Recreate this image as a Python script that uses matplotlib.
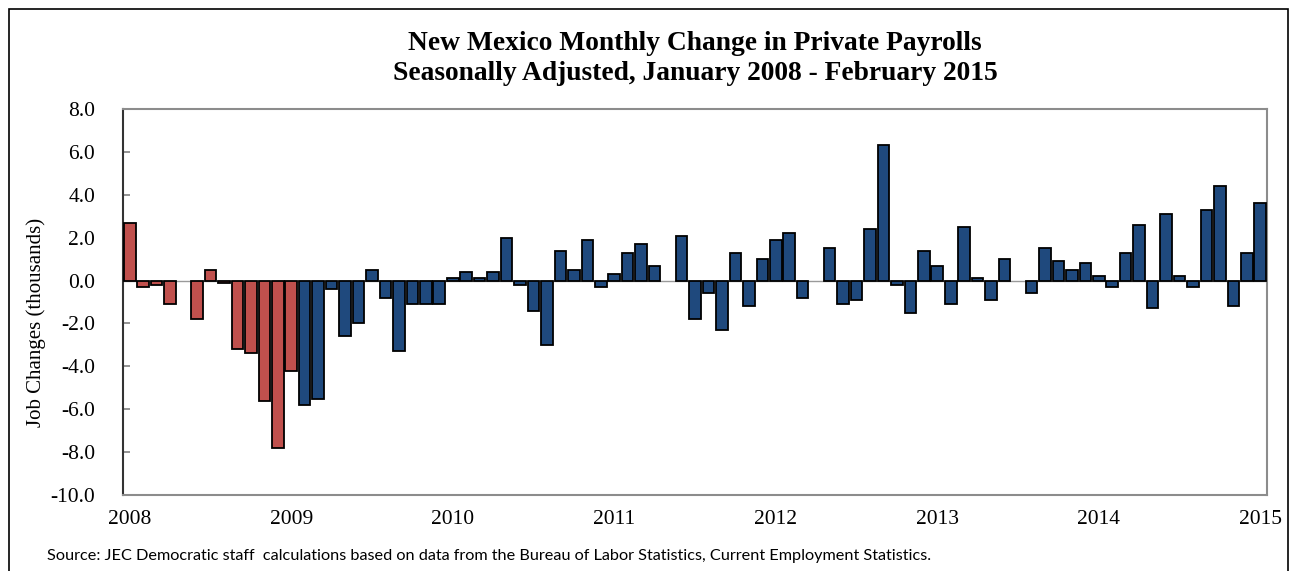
import matplotlib
matplotlib.use("Agg")
import matplotlib.pyplot as plt
from matplotlib.patches import Rectangle

# Monthly change in private payrolls (thousands), Jan 2008 onward
values = [
    2.7, -0.3, -0.2, -1.1, 0.0, -1.8, 0.5, -0.1, -3.2, -3.4, -5.6, -7.8,   # 2008
    -4.2, -5.8, -5.5, -0.4, -2.6, -2.0, 0.5, -0.8, -3.3, -1.1, -1.1, -1.1,  # 2009
    0.1, 0.4, 0.1, 0.4, 2.0, -0.2, -1.4, -3.0, 1.4, 0.5, 1.9, -0.3,        # 2010
    0.3, 1.3, 1.7, 0.7, 0.0, 2.1, -1.8, -0.6, -2.3, 1.3, -1.2, 1.0,        # 2011
    1.9, 2.2, -0.8, 0.0, 1.5, -1.1, -0.9, 2.4, 6.3, -0.2, -1.5, 1.4,       # 2012
    0.7, -1.1, 2.5, 0.1, -0.9, 1.0, 0.0, -0.6, 1.5, 0.9, 0.5, 0.8,         # 2013
    0.2, -0.3, 1.3, 2.6, -1.3, 3.1, 0.2, -0.3, 3.3, 4.4, -1.2, 1.3,        # 2014
    3.6,                                                                   # 2015
]
n_red = 13  # Jan 2008 - Jan 2009
year_labels = ["2008", "2009", "2010", "2011", "2012", "2013", "2014", "2015"]
y_ticks = [8.0, 6.0, 4.0, 2.0, 0.0, -2.0, -4.0, -6.0, -8.0, -10.0]

RED = "#C0504D"
BLUE = "#1F497D"

fig = plt.figure(figsize=(12.97, 5.71), dpi=100)
W, H = 1297, 571
ax = fig.add_axes([123 / W, 1 - 495 / H, (1267 - 123) / W, (495 - 109) / H])

x = list(range(len(values)))
colors = [RED if i < n_red else BLUE for i in x]
lws = [0.0 if v == 0 else 1.3 for v in values]
ax.bar(x, values, width=0.86, color=colors, edgecolor="black", linewidth=lws, zorder=3)
ax.axhline(0, color="#9a9a9a", linewidth=1.0, zorder=2)

ax.set_xlim(-0.5, len(values) - 0.5)
ax.set_ylim(-10, 8)
ax.set_yticks(y_ticks)
ax.set_yticklabels([f"{v:.1f}" for v in y_ticks])
ax.set_xticks([12 * i for i in range(len(year_labels))])
ax.set_xticklabels(year_labels)

serif = "Liberation Serif"
for lab in ax.get_yticklabels() + ax.get_xticklabels():
    lab.set_fontfamily(serif)
    lab.set_fontsize(15.5)
    lab.set_color("black")
ax.tick_params(axis="y", direction="in", length=5, color="#808080", width=1.2, pad=20)
ax.tick_params(axis="x", length=0, pad=11)

for side in ["top", "right", "bottom"]:
    ax.spines[side].set_color("#8c8c8c")
    ax.spines[side].set_linewidth(1.5)
ax.spines["left"].set_color("#333333")
ax.spines["left"].set_linewidth(1.5)

fig.text(36 / W, 1 - 322 / H, "Job Changes (thousands)", rotation=90, ha="center", va="center",
         fontfamily=serif, fontsize=15)

fig.text(695 / W, 1 - 44 / H, "New Mexico Monthly Change in Private Payrolls",
         ha="center", va="center", fontfamily=serif, fontweight="bold", fontsize=19.8)
fig.text(695 / W, 1 - 73 / H, "Seasonally Adjusted, January 2008 - February 2015",
         ha="center", va="center", fontfamily=serif, fontweight="bold", fontsize=19.8)

fig.text(47 / W, 1 - 556 / H,
         "Source: JEC Democratic staff  calculations based on data from the Bureau of Labor Statistics, Current Employment Statistics.",
         ha="left", va="center", fontfamily="Lato", fontsize=11.7)

# outer chart border
fig.patches.append(Rectangle((9 / W, -0.05), (1288 - 9) / W, 1 - 9 / H + 0.05,
                             transform=fig.transFigure, fill=False, edgecolor="black",
                             linewidth=1.2))

fig.savefig("out.png", dpi=100)
